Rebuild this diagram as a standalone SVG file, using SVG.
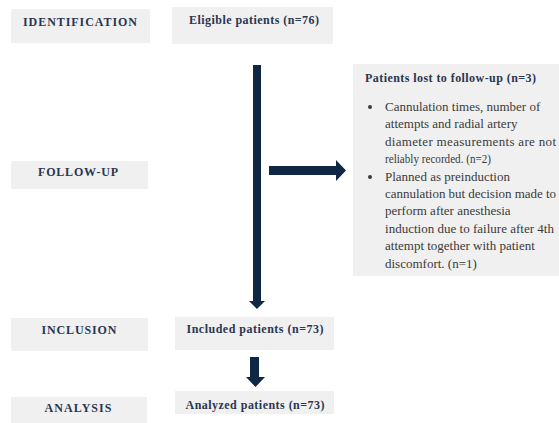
<svg xmlns="http://www.w3.org/2000/svg" width="559" height="423" viewBox="0 0 559 423">
<style>
.box{fill:#f0f0f0}
.h{font-family:Liberation Serif, Times New Roman, serif;font-weight:bold;font-size:12px;fill:#2a3650}
.b{font-family:Liberation Serif, Times New Roman, serif;font-size:13px;fill:#3a3a3a}
.arr{fill:#0f2744}
</style>
<rect width="559" height="423" fill="#ffffff"/>
<g font-family="Liberation Serif, Times New Roman, serif">
<g id="identification"><rect class="box" x="11" y="9" width="139" height="34"/><text class="h" x="80" y="26" text-anchor="middle" textLength="114">IDENTIFICATION</text></g>
<g id="eligible"><rect class="box" x="172" y="7" width="161" height="37"/><text class="h" x="254" y="24" text-anchor="middle" textLength="130">Eligible patients (n=76)</text></g>
<g id="followup"><rect class="box" x="11" y="161" width="137" height="28"/><text class="h" x="78" y="176" text-anchor="middle" textLength="80">FOLLOW-UP</text></g>
<g id="lost"><rect class="box" x="353" y="64" width="206" height="212"/>
<text class="h" x="365" y="82" textLength="171">Patients lost to follow-up (n=3)</text>
<circle cx="370" cy="107" r="2" fill="#3a3a3a"/>
<text class="b" x="385" y="111">Cannulation times, number of</text>
<text class="b" x="385" y="128">attempts and radial artery</text>
<text class="b" x="385" y="146" textLength="171">diameter  measurements are not</text>
<text class="b" x="385" y="163" textLength="106" lengthAdjust="spacingAndGlyphs">reliably recorded. (n=2)</text>
<circle cx="370" cy="177" r="2" fill="#3a3a3a"/>
<text class="b" x="385" y="181">Planned as preinduction</text>
<text class="b" x="385" y="198" textLength="171">cannulation but decision made to</text>
<text class="b" x="385" y="215">perform after anesthesia</text>
<text class="b" x="385" y="233" textLength="169">induction due to failure after 4th</text>
<text class="b" x="385" y="250">attempt together with patient</text>
<text class="b" x="385" y="268">discomfort. (n=1)</text>
</g>
<g id="inclusion"><rect class="box" x="11" y="318" width="137" height="33"/><text class="h" x="79" y="334" text-anchor="middle" textLength="75">INCLUSION</text></g>
<g id="included"><rect class="box" x="175" y="317" width="159" height="33"/><text class="h" x="255" y="333" text-anchor="middle" textLength="137">Included patients (n=73)</text></g>
<g id="analysis"><rect class="box" x="11" y="397" width="136" height="26"/><text class="h" x="78" y="412" text-anchor="middle" textLength="67">ANALYSIS</text></g>
<g id="analyzed"><rect class="box" x="175" y="391" width="159" height="23"/><text class="h" x="255" y="409" text-anchor="middle" textLength="139">Analyzed patients (n=73)</text></g>
</g>
<g id="connectors">
<polygon class="arr" points="253,65 261,65 261,301 265,301 257,309 249,301 253,301"/>
<polygon class="arr" points="269,166 336,166 336,160 346,170.5 336,181 336,175 269,175"/>
<polygon class="arr" points="250,357 259,357 259,377 265,377 255.5,387 246,377 250,377"/>
</g>
</svg>
